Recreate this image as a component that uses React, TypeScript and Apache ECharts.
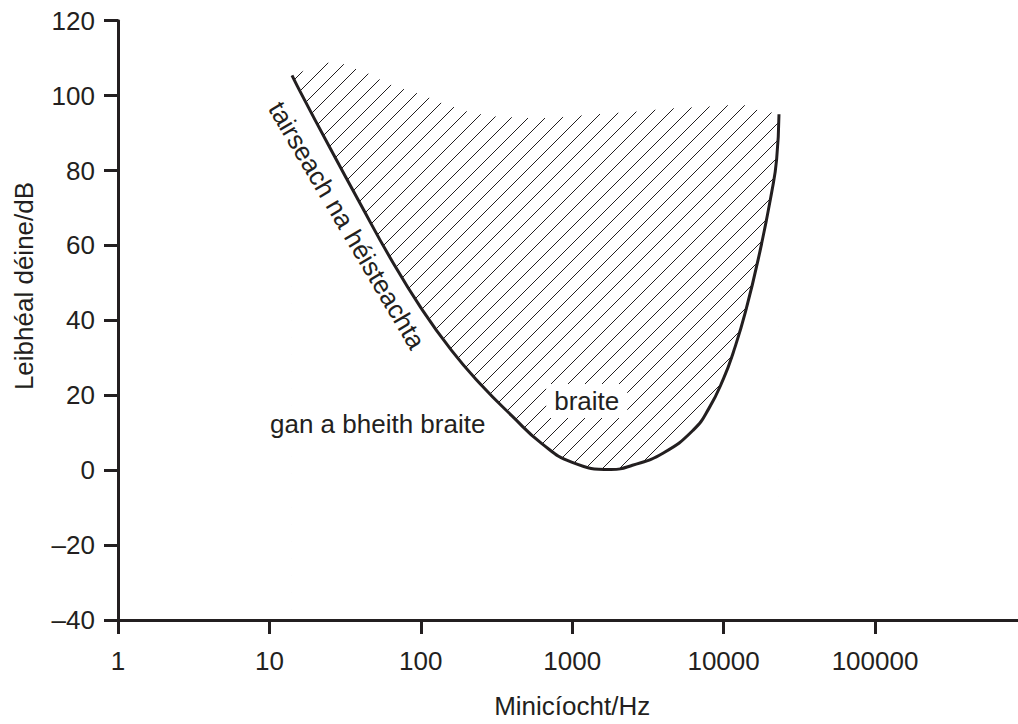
import React, { useEffect, useRef } from 'react';
import * as echarts from 'echarts';

// ---- Data ----
const freqs = [14.1, 16, 25, 40, 63, 100, 160, 250, 400, 630, 1000, 1800, 2500, 4000, 6300, 8000, 10000, 11600, 14000, 17400, 20800, 22400, 23220];
const thresholdDb = [105.4, 101.0, 86.2, 71.0, 56.6, 43.4, 31.9, 22.8, 14.5, 7.1, 2.1, 0.2, 1.3, 4.6, 10.7, 16.5, 24.5, 31.5, 42.5, 58.5, 74.3, 83, 95];
const upperDb = [105.4, 106.3, 108.8, 106.7, 103, 100.3, 97.1, 95, 94.2, 94, 94.5, 95.3, 95.6, 96.4, 96.9, 97.1, 97.4, 97.4, 97.4, 95.9, 95.5, 95.4, 95];

const xName = 'Minicíocht/Hz';
const yName = 'Leibhéal déine/dB';
const curveLabel = 'tairseach na héisteachta';
const heardLabel = 'braite';
const notHeardLabel = 'gan a bheith braite';

const INK = '#231f20';
const FONT = '"Liberation Sans", Arial, Helvetica, sans-serif';

const hatchSvg =
  "<svg xmlns='http://www.w3.org/2000/svg' width='17' height='17'>" +
  "<path d='M0 17L17 0M-2 2L2 -2M15 19L19 15' stroke='#231f20' stroke-width='1' fill='none'/></svg>";
const hatchImage = 'data:image/svg+xml;charset=utf-8,' + encodeURIComponent(hatchSvg);

export default function App() {
  const ref = useRef<HTMLDivElement>(null);

  useEffect(() => {
    if (!ref.current) return;
    const chart = echarts.init(ref.current, undefined, { renderer: 'svg' });
    const upperData = freqs.map((f, i) => [f, upperDb[i]]);
    const thrData = freqs.map((f, i) => [f, thresholdDb[i]]);

    chart.setOption({
      animation: false,
      backgroundColor: '#ffffff',
      textStyle: { fontFamily: FONT },
      grid: { left: 118, top: 20.7, width: 908.4, height: 604.3, containLabel: false },
      xAxis: {
        type: 'log',
        logBase: 10,
        min: 1,
        max: 1000000,
        z: 10,
        name: xName,
        nameLocation: 'middle',
        nameGap: 73,
        nameTextStyle: { fontSize: 26, color: INK, fontFamily: FONT },
        axisLine: { show: true, onZero: false, lineStyle: { color: INK, width: 3 } },
        axisTick: { show: true, inside: false, length: 14, lineStyle: { color: INK, width: 3 } },
        minorTick: { show: false },
        splitLine: { show: false },
        axisLabel: {
          fontSize: 26,
          color: INK,
          fontFamily: FONT,
          margin: 28,
          formatter: (v: number) => (v >= 999999 ? '' : String(Math.round(v))),
        },
      },
      yAxis: {
        type: 'value',
        min: -40,
        max: 120,
        interval: 20,
        z: 10,
        axisLine: { show: true, onZero: false, lineStyle: { color: INK, width: 3 } },
        axisTick: { show: true, inside: false, length: 14, lineStyle: { color: INK, width: 3 } },
        splitLine: { show: false },
        axisLabel: {
          fontSize: 26,
          color: INK,
          fontFamily: FONT,
          margin: 23,
          formatter: (v: number) => (v < 0 ? '\u2013' + Math.abs(v) : String(v)),
        },
      },
      series: [
        {
          name: 'hatch',
          type: 'line',
          data: upperData,
          smooth: 0.5,
          symbol: 'none',
          showSymbol: false,
          silent: true,
          lineStyle: { opacity: 0, width: 0 },
          areaStyle: {
            origin: 'start',
            opacity: 1,
            color: { image: hatchImage, repeat: 'repeat', imageWidth: 17, imageHeight: 17 },
          },
        },
        {
          name: 'threshold',
          type: 'line',
          data: thrData,
          smooth: 0.5,
          symbol: 'none',
          showSymbol: false,
          silent: true,
          lineStyle: { color: INK, width: 3 },
          itemStyle: { color: INK },
          areaStyle: { origin: 'start', opacity: 1, color: '#ffffff' },
        },
      ],
      graphic: [
        {
          type: 'text',
          x: 23.5,
          y: 286,
          rotation: Math.PI / 2,
          z: 100,
          style: { text: yName, fontSize: 26, fontFamily: FONT, fill: INK, align: 'center', verticalAlign: 'middle' },
        },
        {
          type: 'text',
          x: 347,
          y: 225.3,
          rotation: -1.037,
          z: 100,
          style: { text: curveLabel, fontSize: 26, fontFamily: FONT, fill: INK, align: 'center', verticalAlign: 'middle' },
        },
        {
          type: 'text',
          x: 270,
          y: 424,
          z: 100,
          style: { text: notHeardLabel, fontSize: 26, fontFamily: FONT, fill: INK, align: 'left', verticalAlign: 'middle' },
        },
        {
          type: 'text',
          x: 586.7,
          y: 401,
          z: 100,
          style: {
            text: heardLabel,
            fontSize: 26,
            fontFamily: FONT,
            fill: INK,
            align: 'center',
            verticalAlign: 'middle',
            backgroundColor: '#ffffff',
            padding: [4, 8],
          },
        },
      ],
    });

    return () => {
      chart.dispose();
    };
  }, []);

  return (
    <div
      style={{
        position: 'fixed',
        left: 0,
        top: 0,
        width: 1018,
        height: 724,
        overflow: 'hidden',
        background: '#ffffff',
      }}
    >
      <div ref={ref} style={{ width: 1040, height: 724 }} />
    </div>
  );
}
